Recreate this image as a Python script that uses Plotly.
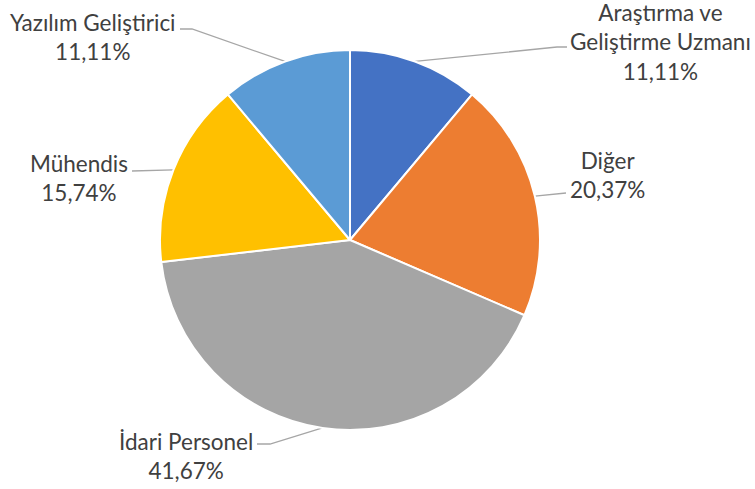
import math
import plotly.graph_objects as go

labels = ["Araştırma ve Geliştirme Uzmanı", "Diğer", "İdari Personel", "Mühendis", "Yazılım Geliştirici"]
values = [12, 22, 45, 17, 12]
colors = ["#4472C4", "#ED7D31", "#A5A5A5", "#FFC000", "#5B9BD5"]
label_texts = ["Araştırma ve<br>Geliştirme Uzmanı", "Diğer", "İdari Personel", "Mühendis", "Yazılım Geliştirici"]

W, H = 755, 489
CX, CY, R = 350, 240, 190

# label centre positions and elbow points (layout)
label_pos = [(660, 42), (607, 175), (186, 456), (79, 178), (93, 37)]
elbows = [(567, 47), (566, 193), (257, 444), (132, 171), (180, 29)]
elbow_mid = [(557, 47), None, (270, 444), None, (192, 29)]

total = sum(values)
fig = go.Figure()
fig.add_trace(go.Pie(
    labels=labels, values=values, sort=False, direction="clockwise", rotation=0,
    marker=dict(colors=colors, line=dict(color="white", width=2)),
    textinfo="none", hoverinfo="label+percent", showlegend=False,
    domain=dict(x=[(CX - R) / W, (CX + R) / W], y=[(H - CY - R) / H, (H - CY + R) / H]),
))

cum = 0
annotations = []
for i, v in enumerate(values):
    frac_mid = (cum + v / 2) / total
    cum += v
    ang = 2 * math.pi * frac_mid
    px = CX + R * math.sin(ang)
    py = CY - R * math.cos(ang)
    xs = [px]
    ys = [py]
    if elbow_mid[i] is not None:
        xs.append(elbow_mid[i][0]); ys.append(elbow_mid[i][1])
    xs.append(elbows[i][0]); ys.append(elbows[i][1])
    fig.add_trace(go.Scatter(x=xs, y=ys, mode="lines", line=dict(color="#A6A6A6", width=1.3),
                             hoverinfo="skip", showlegend=False))
    pct = f"{100 * v / total:.2f}".replace(".", ",") + "%"
    annotations.append(dict(x=label_pos[i][0], y=label_pos[i][1], xref="x", yref="y",
                            text=f"{label_texts[i]}<br>{pct}", showarrow=False,
                            align="center", xanchor="center", yanchor="middle",
                            font=dict(family="Lato", size=22.5, color="#404040")))

fig.update_layout(
    width=W, height=H, margin=dict(l=0, r=0, t=0, b=0),
    paper_bgcolor="white", plot_bgcolor="rgba(0,0,0,0)",
    xaxis=dict(range=[0, W], visible=False, fixedrange=True, domain=[0, 1]),
    yaxis=dict(range=[H, 0], visible=False, fixedrange=True, domain=[0, 1]),
    annotations=annotations,
)
fig.write_html("out.html", config={"displayModeBar": False},
               post_script="document.body.style.margin='0';document.body.style.overflow='hidden';")
